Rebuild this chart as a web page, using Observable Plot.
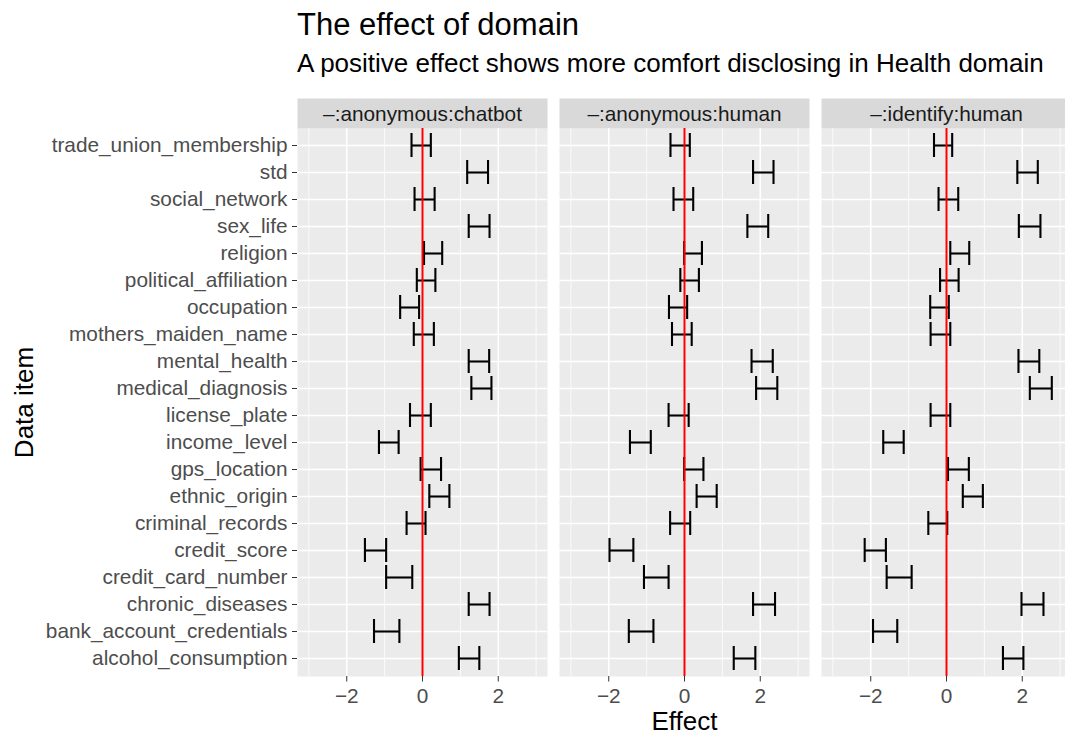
<!DOCTYPE html>
<html><head><meta charset="utf-8">
<script src="https://cdn.jsdelivr.net/npm/d3@7"></script>
<script src="https://cdn.jsdelivr.net/npm/@observablehq/plot@0.6"></script>
<style>
html,body{margin:0;padding:0;background:#fff;overflow:hidden;}
body{font-family:"Liberation Sans",Arial,sans-serif;}
#wrap{position:relative;width:1073px;}
#head{position:relative;height:90px;}
.t{position:absolute;left:297px;white-space:nowrap;line-height:1;color:#000;}
#title{top:9px;font-size:31px;}
#subtitle{top:50px;font-size:26px;}
</style></head><body>
<div id="wrap">
<div id="head"><div id="title" class="t">The effect of domain</div><div id="subtitle" class="t">A positive effect shows more comfort disclosing in Health domain</div></div>
<div id="chart"></div>
</div>
<script>
const items = ["trade_union_membership","std","social_network","sex_life","religion","political_affiliation","occupation","mothers_maiden_name","mental_health","medical_diagnosis","license_plate","income_level","gps_location","ethnic_origin","criminal_records","credit_score","credit_card_number","chronic_diseases","bank_account_credentials","alcohol_consumption"];
const panels = ["–:anonymous:chatbot", "–:anonymous:human", "–:identify:human"];

const chatbotLo = [-0.29, 1.18, -0.21, 1.22, 0.04, -0.15, -0.59, -0.23, 1.22, 1.29, -0.33, -1.15, -0.05, 0.18, -0.42, -1.52, -0.96, 1.22, -1.28, 0.96];
const chatbotHi = [0.22, 1.73, 0.32, 1.77, 0.52, 0.34, -0.09, 0.30, 1.76, 1.82, 0.22, -0.63, 0.49, 0.71, 0.08, -0.96, -0.27, 1.77, -0.61, 1.50];
const anonHumanLo = [-0.37, 1.81, -0.29, 1.66, -0.01, -0.11, -0.41, -0.33, 1.77, 1.89, -0.42, -1.44, -0.01, 0.32, -0.38, -1.98, -1.07, 1.81, -1.47, 1.30];
const anonHumanHi = [0.14, 2.35, 0.23, 2.21, 0.46, 0.38, 0.07, 0.19, 2.33, 2.45, 0.11, -0.89, 0.50, 0.85, 0.15, -1.35, -0.42, 2.39, -0.82, 1.87];
const identHumanLo = [-0.33, 1.87, -0.21, 1.91, 0.10, -0.17, -0.43, -0.42, 1.90, 2.20, -0.42, -1.67, 0.04, 0.43, -0.48, -2.16, -1.58, 1.98, -1.94, 1.49];
const identHumanHi = [0.15, 2.41, 0.31, 2.48, 0.60, 0.32, 0.06, 0.10, 2.45, 2.78, 0.10, -1.13, 0.59, 0.96, 0.02, -1.60, -0.92, 2.56, -1.30, 2.03];

const majorTicks = [-2, 0, 2];
const minorTicks = [-3, -1, 1, 3];

const series = [[chatbotLo, chatbotHi], [anonHumanLo, anonHumanHi], [identHumanLo, identHumanHi]];
const rows = [];
panels.forEach((p, k) => items.forEach((it, i) => rows.push({panel: p, item: it, lo: series[k][0][i], hi: series[k][1][i]})));

const font = "Liberation Sans, Arial, sans-serif";
const chart = Plot.plot({
  width: 1073, height: 645,
  marginTop: 38, marginBottom: 59, marginLeft: 296, marginRight: 0,
  style: {fontFamily: font, background: "white", overflow: "visible"},
  fx: {domain: panels, paddingInner: 0.0449, paddingOuter: 0, label: null},
  x: {domain: [-3.3, 3.3]},
  y: {domain: items, type: "band", paddingInner: 0.1, paddingOuter: 0.15},
  marks: [
    Plot.frame({fill: "#ebebeb"}),
    Plot.frame({fill: "#d9d9d9", insetTop: -30, insetBottom: 548}),
    Plot.ruleX(minorTicks, {stroke: "white", strokeWidth: 0.8}),
    Plot.ruleX(majorTicks, {stroke: "white", strokeWidth: 1.6}),
    Plot.gridY({stroke: "white", strokeOpacity: 1, strokeWidth: 1.6}),
    Plot.ruleY(rows, {fx: "panel", y: "item", x1: "lo", x2: "hi", stroke: "black", strokeWidth: 2.1}),
    Plot.tickX(rows, {fx: "panel", y: "item", x: "lo", stroke: "black", strokeWidth: 2.1}),
    Plot.tickX(rows, {fx: "panel", y: "item", x: "hi", stroke: "black", strokeWidth: 2.1}),
    Plot.ruleX([0], {stroke: "red", strokeWidth: 2}),
    Plot.axisFx({anchor: "top", tickSize: 0, tickPadding: 8, fontSize: 20.8, fill: "#1a1a1a", label: null}),
    Plot.axisX({ticks: majorTicks, tickFormat: d3.format("~g"), tickSize: 5.5, tickPadding: 6.5, fontSize: 20.8, fill: "#4d4d4d", stroke: "#333", label: null}),
    Plot.axisX({ticks: [], tickSize: 0, label: "Effect", labelAnchor: "center", labelArrow: "none", labelOffset: 53, fontSize: 26, fill: "black"}),
    Plot.axisY({tickSize: 5, tickPadding: 5, fontSize: 20.8, fill: "#4d4d4d", stroke: "#333", label: null}),
    Plot.axisY({ticks: [], tickSize: 0, label: "Data item", labelAnchor: "center", labelArrow: "none", labelOffset: 283, fontSize: 26, fill: "black"})
  ]
});
document.getElementById("chart").appendChild(chart);
</script>
</body></html>
